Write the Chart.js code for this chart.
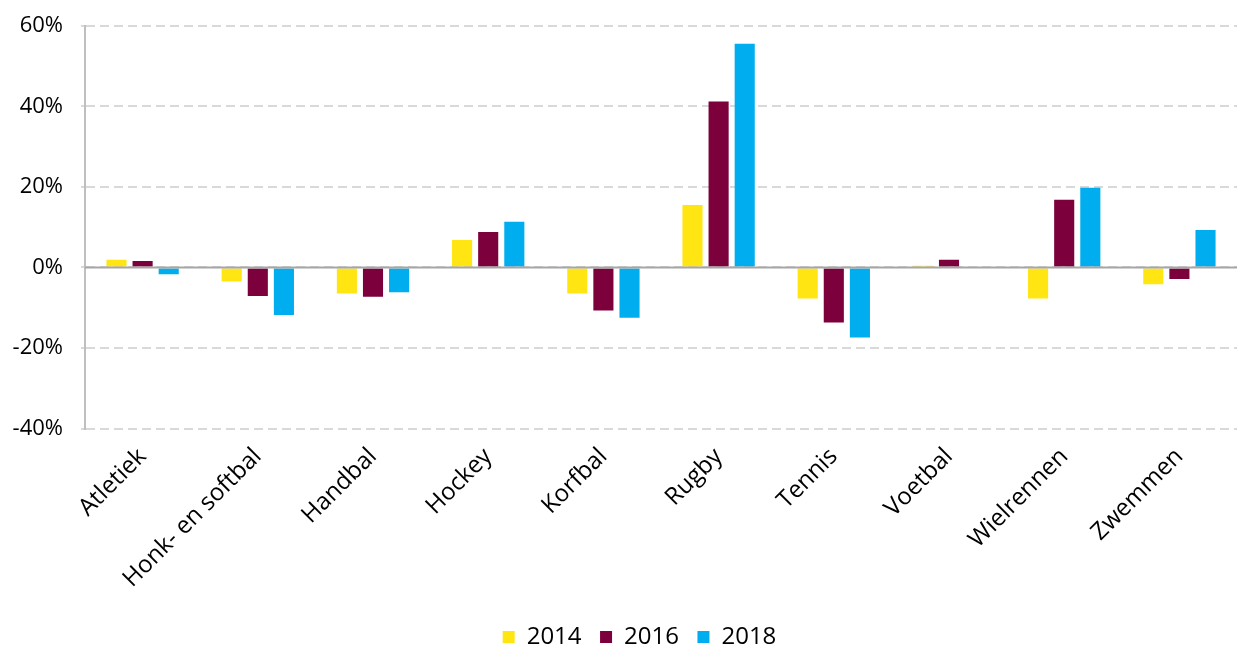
<!DOCTYPE html>
<html>
<head>
<meta charset="utf-8">
<script src="https://cdn.jsdelivr.net/npm/chart.js@4/dist/chart.umd.min.js"></script>
<style>
html,body{margin:0;padding:0;background:#fff;}
#wrap{width:1237px;height:648px;position:relative;}
</style>
</head>
<body>
<div id="wrap"><canvas id="c"></canvas></div>
<script>
const categories = ["Atletiek","Honk- en softbal","Handbal","Hockey","Korfbal","Rugby","Tennis","Voetbal","Wielrennen","Zwemmen"];
const values2014 = [1.9, -3.5, -6.5, 6.8, -6.5, 15.5, -7.7, 0.4, -7.7, -4.2];
const values2016 = [1.6, -7.1, -7.3, 8.8, -10.7, 41.2, -13.7, 1.9, 16.8, -2.9];
const values2018 = [-1.7, -11.8, -6.2, 11.3, -12.5, 55.5, -17.4, 0, 19.8, 9.3];
const seriesNames = ["2014","2016","2018"];
const yTicks = [-40,-20,0,20,40,60];

const FONT = "'Open Sans', 'DejaVu Sans', sans-serif";

const zeroLine = {
  id: 'zeroLine',
  afterDatasetsDraw(chart){
    const y = chart.scales.y.getPixelForValue(0);
    const a = chart.chartArea;
    const ctx = chart.ctx;
    ctx.save();
    ctx.strokeStyle = '#a6a6a6';
    ctx.lineWidth = 2;
    ctx.beginPath();
    ctx.moveTo(a.left, y);
    ctx.lineTo(a.right, y);
    ctx.stroke();
    ctx.restore();
  }
};

// shift the centred legend to sit where the reference places it
const legendShift = {
  id: 'legendShift',
  afterLayout(chart){
    if (chart.legend) { chart.legend.left += 21; chart.legend.right += 21; }
  }
};

new Chart(document.getElementById('c'), {
  type: 'bar',
  data: {
    labels: categories,
    datasets: [
      {label: seriesNames[0], data: values2014, backgroundColor: '#ffe512', categoryPercentage: 0.68, barPercentage: 0.77},
      {label: seriesNames[1], data: values2016, backgroundColor: '#7c003c', categoryPercentage: 0.68, barPercentage: 0.77},
      {label: seriesNames[2], data: values2018, backgroundColor: '#00aeef', categoryPercentage: 0.68, barPercentage: 0.77}
    ]
  },
  options: {
    responsive: true,
    maintainAspectRatio: false,
    animation: false,
    layout: {padding: {top: 8, right: 0, left: 0, bottom: -11}},
    plugins: {
      legend: {
        position: 'bottom',
        labels: {
          boxWidth: 12, boxHeight: 12, padding: 18.5,
          color: '#000',
          font: {family: FONT, size: 24}
        }
      },
      tooltip: {enabled: false}
    },
    scales: {
      x: {
        afterFit(scale){ scale.height = 178; },
        grid: {display: false, drawTicks: false},
        border: {display: false},
        ticks: {
          color: '#000', minRotation: 45, maxRotation: 45, padding: 14,
          font: {family: FONT, size: 24}
        }
      },
      y: {
        min: -40, max: 60,
        afterBuildTicks(scale){ scale.ticks = yTicks.map(v => ({value: v})); },
        afterFit(scale){ scale.width = 85; },
        grid: {
          color: '#d9d9d9', lineWidth: 2, tickLength: 4,
          drawTicks: true
        },
        border: {display: true, color: '#bfbfbf', width: 2, dash: [9,5]},
        ticks: {
          color: '#000', padding: 18,
          font: {family: FONT, size: 22, lineHeight: 0.7},
          callback: v => v + '%'
        }
      }
    }
  },
  plugins: [zeroLine, legendShift]
});
</script>
</body>
</html>
